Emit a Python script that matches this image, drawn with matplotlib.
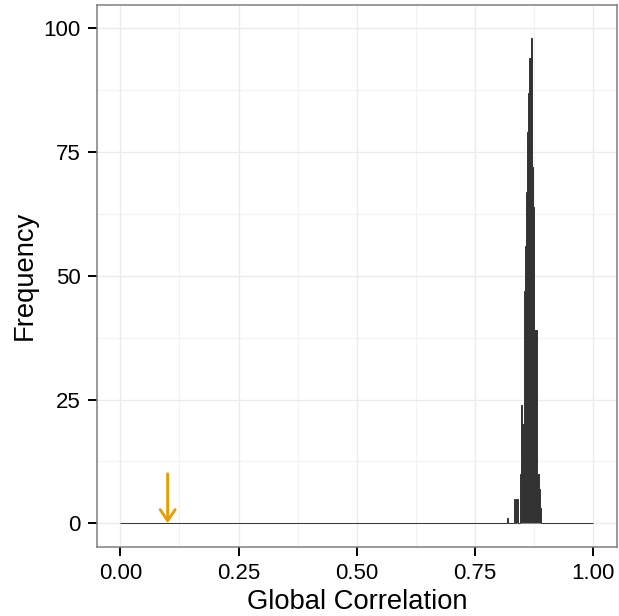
import numpy as np
import matplotlib
matplotlib.use("Agg")
import matplotlib.pyplot as plt

plt.rcParams['font.family'] = ['Liberation Sans', 'DejaVu Sans']

# ---- data ----
bin_width = 0.0025
hist_range = (0.0, 1.0)
first_nonzero_bin = 327          # bin index of first non-empty bin (0.8175)
nonzero_counts = [1, 0, 0, 0, 0, 0, 5, 0, 5, 0, 0, 10, 24, 20, 47, 56, 67,
                  79, 87, 94, 98, 72, 64, 39, 39, 10, 10, 7, 3]
observed_value = 0.10
arrow_top = 10

x_ticks = [0.00, 0.25, 0.50, 0.75, 1.00]
x_tick_labels = ["0.00", "0.25", "0.50", "0.75", "1.00"]
y_ticks = [0, 25, 50, 75, 100]
y_tick_labels = ["0", "25", "50", "75", "100"]

# ---- build histogram ----
n_bins = int(round((hist_range[1] - hist_range[0]) / bin_width))
edges = np.linspace(hist_range[0], hist_range[1], n_bins + 1)
counts = np.zeros(n_bins)
counts[first_nonzero_bin:first_nonzero_bin + len(nonzero_counts)] = nonzero_counts

fig = plt.figure(figsize=(6.19, 6.16), dpi=100)
ax = fig.add_axes([96.7 / 619, 1 - 546.7 / 616, (617 - 96.7) / 619, (546.7 - 4.7) / 616])

# grid
minor_x = [0.125, 0.375, 0.625, 0.875]
minor_y = [12.5, 37.5, 62.5, 87.5]
for v in minor_x:
    ax.axvline(v, color='#F2F2F2', lw=0.8, zorder=0)
for v in minor_y:
    ax.axhline(v, color='#F2F2F2', lw=0.8, zorder=0)
for v in x_ticks:
    ax.axvline(v, color='#EBEBEB', lw=1.0, zorder=0)
for v in y_ticks:
    ax.axhline(v, color='#EBEBEB', lw=1.0, zorder=0)

ax.stairs(counts, edges, fill=True, facecolor='#333333', edgecolor='#333333',
          linewidth=0.7, zorder=2)

ax.annotate('', xy=(observed_value, 0), xytext=(observed_value, arrow_top),
            arrowprops=dict(arrowstyle='->,head_length=0.4,head_width=0.27',
                            color='#E69F00', lw=2.1, shrinkA=0, shrinkB=0,
                            mutation_scale=20),
            zorder=3)

ax.set_xlim(-0.05, 1.05)
ax.set_ylim(-4.73, 104.8)
ax.set_xticks(x_ticks)
ax.set_xticklabels(x_tick_labels)
ax.set_yticks(y_ticks)
ax.set_yticklabels(y_tick_labels)

ax.tick_params(axis='both', which='major', length=6.5, width=1.4, color='black',
               labelsize=16, labelcolor='black', pad=5)
for s in ax.spines.values():
    s.set_color('#7F7F7F')
    s.set_linewidth(1.1)

ax.set_xlabel('Global Correlation', fontsize=19.7, labelpad=4)
ax.set_ylabel('Frequency', fontsize=19.7, labelpad=4)

fig.savefig('out.png', dpi=100)
